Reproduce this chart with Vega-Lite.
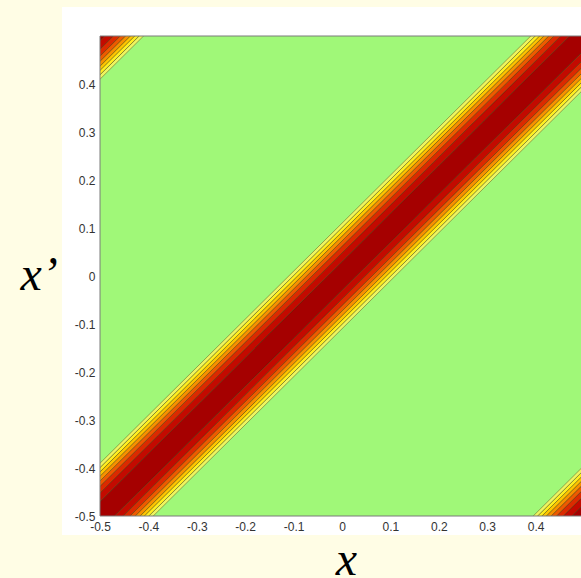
{
  "$schema": "https://vega.github.io/schema/vega-lite/v6.json",
  "width": 481,
  "height": 480,
  "autosize": {"type": "none"},
  "padding": {"left": 100, "top": 36, "right": 0, "bottom": 62},
  "background": "#FFFDE5",
  "config": {"view": {"stroke": null}},
  "layer": [
    {
      "data": {"values": [{}]},
      "mark": {"type": "rect", "fill": "white", "clip": false},
      "encoding": {
        "x": {"datum": -0.5785, "type": "quantitative", "scale": {"domain": [-0.5, 0.4938], "nice": false, "zero": false}},
        "x2": {"datum": 0.62},
        "y": {"datum": 0.5604, "type": "quantitative", "scale": {"domain": [-0.5, 0.5], "nice": false, "zero": false}},
        "y2": {"datum": -0.5396}
      }
    },
    {
      "data": {"values": [{}]},
      "mark": {"type": "rect", "fill": "#A0F878", "clip": true},
      "encoding": {
        "x": {"datum": -0.5, "type": "quantitative"},
        "x2": {"datum": 0.6},
        "y": {"datum": -0.5, "type": "quantitative"},
        "y2": {"datum": 0.5}
      }
    },
    {
      "data": {"values": [
        {"s": "m0", "lev": "0", "x": -0.6, "y": -0.63, "y2": -0.57},
        {"s": "m0", "lev": "0", "x": 0.6, "y": 0.57, "y2": 0.63},
        {"s": "m1p", "lev": "1", "x": -0.6, "y": -0.57, "y2": -0.552},
        {"s": "m1p", "lev": "1", "x": 0.6, "y": 0.63, "y2": 0.648},
        {"s": "m1n", "lev": "1", "x": -0.6, "y": -0.648, "y2": -0.63},
        {"s": "m1n", "lev": "1", "x": 0.6, "y": 0.552, "y2": 0.57},
        {"s": "m2p", "lev": "2", "x": -0.6, "y": -0.552, "y2": -0.538},
        {"s": "m2p", "lev": "2", "x": 0.6, "y": 0.648, "y2": 0.662},
        {"s": "m2n", "lev": "2", "x": -0.6, "y": -0.662, "y2": -0.648},
        {"s": "m2n", "lev": "2", "x": 0.6, "y": 0.538, "y2": 0.552},
        {"s": "m3p", "lev": "3", "x": -0.6, "y": -0.538, "y2": -0.527},
        {"s": "m3p", "lev": "3", "x": 0.6, "y": 0.662, "y2": 0.673},
        {"s": "m3n", "lev": "3", "x": -0.6, "y": -0.673, "y2": -0.662},
        {"s": "m3n", "lev": "3", "x": 0.6, "y": 0.527, "y2": 0.538},
        {"s": "m4p", "lev": "4", "x": -0.6, "y": -0.527, "y2": -0.517},
        {"s": "m4p", "lev": "4", "x": 0.6, "y": 0.673, "y2": 0.683},
        {"s": "m4n", "lev": "4", "x": -0.6, "y": -0.683, "y2": -0.673},
        {"s": "m4n", "lev": "4", "x": 0.6, "y": 0.517, "y2": 0.527},
        {"s": "m5p", "lev": "5", "x": -0.6, "y": -0.517, "y2": -0.508},
        {"s": "m5p", "lev": "5", "x": 0.6, "y": 0.683, "y2": 0.692},
        {"s": "m5n", "lev": "5", "x": -0.6, "y": -0.692, "y2": -0.683},
        {"s": "m5n", "lev": "5", "x": 0.6, "y": 0.508, "y2": 0.517},
        {"s": "m6p", "lev": "6", "x": -0.6, "y": -0.508, "y2": -0.499},
        {"s": "m6p", "lev": "6", "x": 0.6, "y": 0.692, "y2": 0.701},
        {"s": "m6n", "lev": "6", "x": -0.6, "y": -0.701, "y2": -0.692},
        {"s": "m6n", "lev": "6", "x": 0.6, "y": 0.499, "y2": 0.508},
        {"s": "m7p", "lev": "7", "x": -0.6, "y": -0.499, "y2": -0.49},
        {"s": "m7p", "lev": "7", "x": 0.6, "y": 0.701, "y2": 0.71},
        {"s": "m7n", "lev": "7", "x": -0.6, "y": -0.71, "y2": -0.701},
        {"s": "m7n", "lev": "7", "x": 0.6, "y": 0.49, "y2": 0.499},
        {"s": "t0", "lev": "0", "x": -0.6, "y": 0.39, "y2": 0.45},
        {"s": "t0", "lev": "0", "x": -0.3, "y": 0.69, "y2": 0.75},
        {"s": "t1n", "lev": "1", "x": -0.6, "y": 0.372, "y2": 0.39},
        {"s": "t1n", "lev": "1", "x": -0.3, "y": 0.672, "y2": 0.69},
        {"s": "t2n", "lev": "2", "x": -0.6, "y": 0.358, "y2": 0.372},
        {"s": "t2n", "lev": "2", "x": -0.3, "y": 0.658, "y2": 0.672},
        {"s": "t3n", "lev": "3", "x": -0.6, "y": 0.347, "y2": 0.358},
        {"s": "t3n", "lev": "3", "x": -0.3, "y": 0.647, "y2": 0.658},
        {"s": "t4n", "lev": "4", "x": -0.6, "y": 0.337, "y2": 0.347},
        {"s": "t4n", "lev": "4", "x": -0.3, "y": 0.637, "y2": 0.647},
        {"s": "t5n", "lev": "5", "x": -0.6, "y": 0.328, "y2": 0.337},
        {"s": "t5n", "lev": "5", "x": -0.3, "y": 0.628, "y2": 0.637},
        {"s": "t6n", "lev": "6", "x": -0.6, "y": 0.319, "y2": 0.328},
        {"s": "t6n", "lev": "6", "x": -0.3, "y": 0.619, "y2": 0.628},
        {"s": "t7n", "lev": "7", "x": -0.6, "y": 0.31, "y2": 0.319},
        {"s": "t7n", "lev": "7", "x": -0.3, "y": 0.61, "y2": 0.619},
        {"s": "b0", "lev": "0", "x": 0.3, "y": -0.735, "y2": -0.675},
        {"s": "b0", "lev": "0", "x": 0.6, "y": -0.435, "y2": -0.375},
        {"s": "b1p", "lev": "1", "x": 0.3, "y": -0.675, "y2": -0.657},
        {"s": "b1p", "lev": "1", "x": 0.6, "y": -0.375, "y2": -0.357},
        {"s": "b2p", "lev": "2", "x": 0.3, "y": -0.657, "y2": -0.643},
        {"s": "b2p", "lev": "2", "x": 0.6, "y": -0.357, "y2": -0.343},
        {"s": "b3p", "lev": "3", "x": 0.3, "y": -0.643, "y2": -0.632},
        {"s": "b3p", "lev": "3", "x": 0.6, "y": -0.343, "y2": -0.332},
        {"s": "b4p", "lev": "4", "x": 0.3, "y": -0.632, "y2": -0.622},
        {"s": "b4p", "lev": "4", "x": 0.6, "y": -0.332, "y2": -0.322},
        {"s": "b5p", "lev": "5", "x": 0.3, "y": -0.622, "y2": -0.613},
        {"s": "b5p", "lev": "5", "x": 0.6, "y": -0.322, "y2": -0.313},
        {"s": "b6p", "lev": "6", "x": 0.3, "y": -0.613, "y2": -0.604},
        {"s": "b6p", "lev": "6", "x": 0.6, "y": -0.313, "y2": -0.304},
        {"s": "b7p", "lev": "7", "x": 0.3, "y": -0.604, "y2": -0.595},
        {"s": "b7p", "lev": "7", "x": 0.6, "y": -0.304, "y2": -0.295}
      ]},
      "mark": {"type": "area", "clip": true, "stroke": "#3a2a10", "strokeWidth": 0.5, "strokeOpacity": 0.8},
      "encoding": {
        "x": {
          "field": "x", "type": "quantitative",
          "axis": {
            "values": [-0.5, -0.4, -0.3, -0.2, -0.1, 0, 0.1, 0.2, 0.3, 0.4],
            "format": ".1~f",
            "labelExpr": "replace(datum.label, '−', '-')",
            "grid": false, "ticks": false, "domain": false, "zindex": 1,
            "labelFlush": false, "labelPadding": 5, "labelFont": "Liberation Sans", "labelFontSize": 12, "labelColor": "#333333",
            "title": "x", "titleFont": "Liberation Serif", "titleFontStyle": "italic", "titleFontWeight": "normal",
            "titleFontSize": 48, "titleColor": "#000000", "titleX": 246, "titleY": 58,
            "titleAlign": "center", "titleBaseline": "alphabetic"
          }
        },
        "y": {
          "field": "y", "type": "quantitative", "stack": null,
          "axis": {
            "values": [-0.5, -0.4, -0.3, -0.2, -0.1, 0, 0.1, 0.2, 0.3, 0.4],
            "format": ".1~f",
            "labelExpr": "replace(datum.label, '−', '-')",
            "grid": false, "ticks": false, "domain": false, "zindex": 1,
            "labelFlush": false, "labelPadding": 5, "labelFont": "Liberation Sans", "labelFontSize": 12, "labelColor": "#333333",
            "title": "x’", "titleFont": "Liberation Serif", "titleFontStyle": "italic", "titleFontWeight": "normal",
            "titleFontSize": 48, "titleColor": "#000000", "titleAngle": 0, "titleX": -80, "titleY": 253,
            "titleAlign": "left", "titleBaseline": "alphabetic"
          }
        },
        "y2": {"field": "y2"},
        "detail": {"field": "s"},
        "color": {
          "field": "lev", "type": "nominal", "legend": null,
          "scale": {
            "domain": ["0", "1", "2", "3", "4", "5", "6", "7"],
            "range": ["#A50000", "#C30A00", "#DC2A00", "#EE5A00", "#F89000", "#FFC400", "#FFEE20", "#EEF560"]
          }
        }
      }
    },
    {
      "data": {"values": [{}]},
      "mark": {"type": "rect", "fill": null, "stroke": "#7a7a7a", "strokeWidth": 1, "clip": false},
      "encoding": {
        "x": {"datum": -0.5, "type": "quantitative"},
        "x2": {"datum": 0.6},
        "y": {"datum": -0.5, "type": "quantitative"},
        "y2": {"datum": 0.5}
      }
    }
  ]
}
